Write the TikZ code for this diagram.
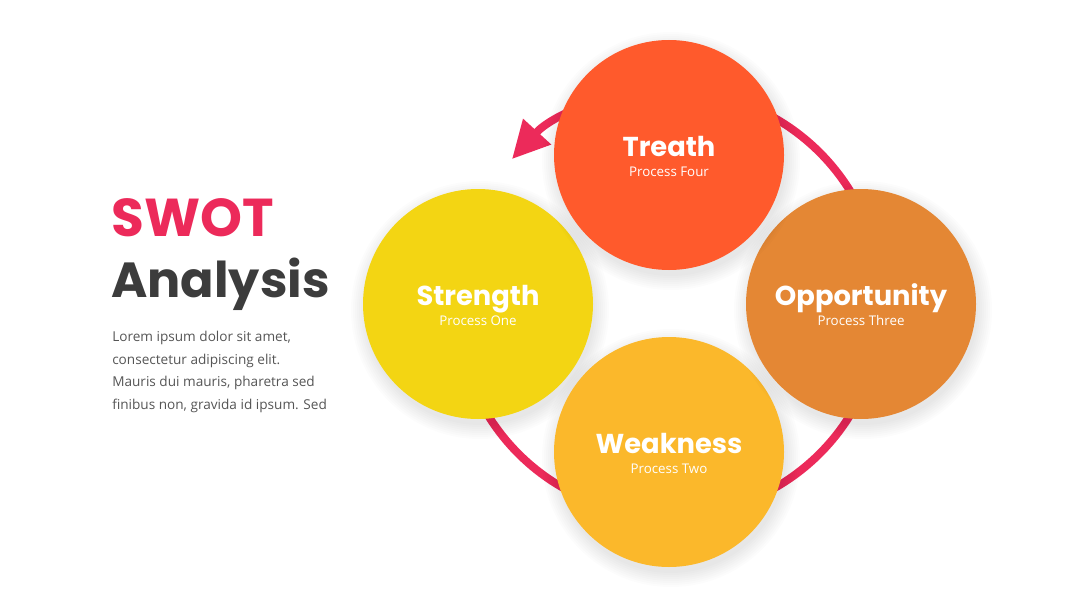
\documentclass[tikz,border=0pt]{standalone}
\usepackage{fontspec}
\setmainfont{Open Sans}
\newfontfamily\headfont{Poppins}
\usetikzlibrary{arrows.meta, positioning}
\definecolor{swotred}{HTML}{EC2A5A}
\definecolor{darktext}{HTML}{3C3C3C}
\definecolor{bodytext}{HTML}{555555}
\definecolor{treathcol}{HTML}{FF5A2C}
\definecolor{opportcol}{HTML}{E48734}
\definecolor{weakcol}{HTML}{FBB82B}
\definecolor{strongcol}{HTML}{F3D513}

\begin{document}
\begin{tikzpicture}[x=0.75pt, y=0.75pt,
  bubble/.style={circle, minimum size=172.5pt, inner sep=0pt},
  bubbletitle/.style={text=white, inner sep=0pt, font=\headfont\bfseries\fontsize{20.5}{20.5}\selectfont},
  bubblesub/.style={text=white, inner sep=0pt, font=\fontsize{10}{11}\selectfont},
  ringline/.style={swotred, line width=6pt}]
\useasboundingbox (0,0) rectangle (1080,608);
% Circle with soft shadow and two labels
\def\bubble#1#2#3#4#5#6{
    % #1 = name, #2 = x, #3 = y, #4 = color, #5 = title, #6 = subtitle
    \foreach \s in {1,...,8}
        \fill[black, opacity=0.012] (#2+2, #3-6) circle ({113+\s*2});
    \node[bubble, fill=#4] (#1) at (#2, #3) {};
    \node[bubbletitle, anchor=base] (#1-title) at ([yshift=-1pt]#1.center) {#5};
    \node[bubblesub, anchor=base] (#1-sub) at ([yshift=-16pt]#1.center) {#6};
}
% Heading and text
\node[anchor=base west, inner sep=0pt, text=swotred,
      font=\headfont\bfseries\fontsize{40}{40}\selectfont] (swot) at (111, 372) {SWOT};
\node[anchor=base west, inner sep=0pt, text=darktext,
      font=\headfont\bfseries\fontsize{37}{37}\selectfont] (analysis) at (111, 311) {Analysis};
\node[anchor=north west, inner sep=0pt, text=bodytext, align=left,
      font=\fontsize{10.2}{16.9}\selectfont] (body) at (112, 277)
    {Lorem ipsum dolor sit amet,\\consectetur adipiscing elit.\\Mauris dui mauris, pharetra sed\\finibus non, gravida id ipsum. Sed};

% Cycle ring
\coordinate (hub) at (669, 305);
\draw[ringline, -{Triangle[length=28pt, width=27pt]}]
    ([shift={(210:213)}]hub) arc[start angle=210, end angle=497.5, radius=213];

% Circles
\bubble{strength}{478}{304}{strongcol}{Strength}{Process One}
\bubble{weakness}{669}{156}{weakcol}{Weakness}{Process Two}
\bubble{opportunity}{861}{304}{opportcol}{Opportunity}{Process Three}
\bubble{treath}{669}{453}{treathcol}{Treath}{Process Four}
\end{tikzpicture}
\end{document}
